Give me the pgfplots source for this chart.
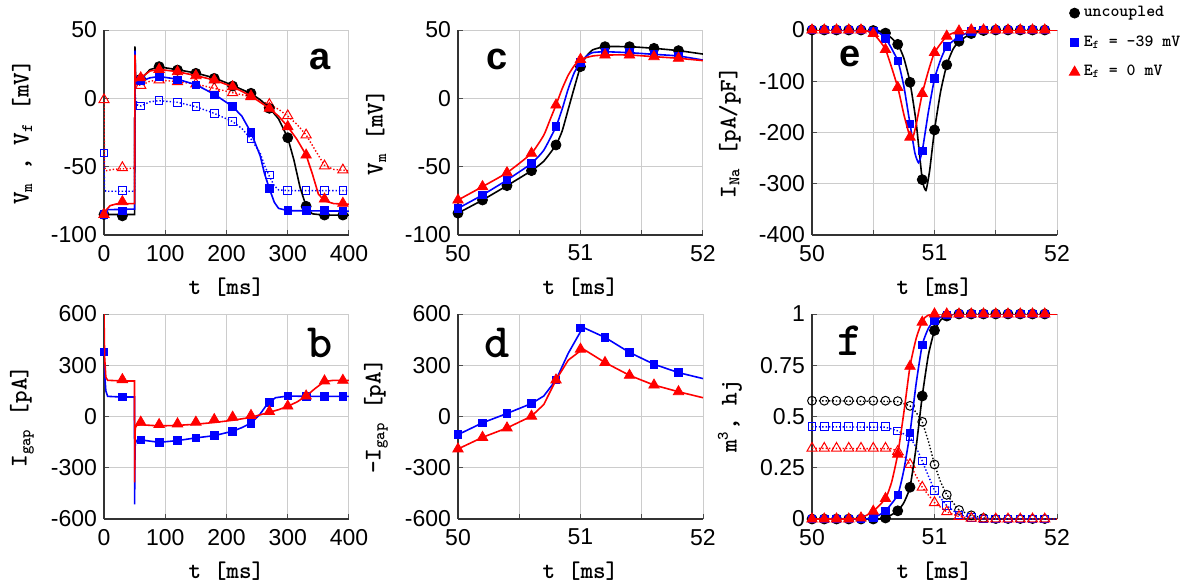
\documentclass[border=0pt]{standalone}
\usepackage{pgfplots}
\pgfplotsset{compat=1.18}
\usepackage{fontspec}
\newfontfamily\sansf{Liberation Sans}

\newcommand\lab{\ttfamily\bfseries\fontsize{12}{12}\selectfont}
\newcommand\tickf{\sansf\fontsize{11.5}{12}\selectfont}
\newcommand\letA{\sansf\bfseries\fontsize{19}{19}\selectfont}
\newcommand\letB{\ttfamily\bfseries\fontsize{24}{24}\selectfont}

\pgfplotsset{
  panel/.style={
    scale only axis, width=122.5pt, height=102.5pt,
    anchor=north west,
    axis x line*=bottom, axis y line*=left,
    axis line style={black!80, line width=0.9pt},
    grid=both,
    major grid style={black!20, line width=0.5pt},
    minor grid style={black!20, line width=0.5pt},
    tick style={black!70, line width=0.5pt},
    major tick length=2.5pt, minor tick length=2.5pt,
    tick align=inside,
    tick label style={font=\tickf},
    xticklabel style={yshift=-1.5pt},
    /pgf/number format/assume math mode=true,
    xlabel={t [ms]},
    every axis x label/.style={at={(axis description cs:0.5,0)}, yshift=-26pt, anchor=center, font=\lab},
    every axis y label/.style={at={(axis description cs:0,0.5)}, xshift=-41pt, rotate=90, anchor=center, font=\lab},
    clip mode=individual,
  },
  long/.style={xmin=0, xmax=400, xtick={0,100,200,300,400}},
  short/.style={xmin=50, xmax=52, xtick={50,51,52}, minor xtick={50.5,51.5}},
  lk/.style={black, line width=0.8pt},
  lb/.style={blue, line width=0.8pt},
  lr/.style={red, line width=0.8pt},
  dk/.style={black, densely dotted, line width=0.7pt},
  db/.style={blue, densely dotted, line width=0.7pt},
  dr/.style={red, densely dotted, line width=0.7pt},
  mk/.style={only marks, mark=*, mark size=2.5pt, black},
  mb/.style={only marks, mark=square*, mark size=1.9pt, blue},
  mr/.style={only marks, mark=triangle*, mark size=3pt, red},
  ok/.style={only marks, mark=o, mark size=2.2pt, black, mark options={line width=0.5pt}},
  ob/.style={only marks, mark=square, mark size=1.9pt, blue, mark options={line width=0.5pt}},
  or/.style={only marks, mark=triangle, mark size=2.9pt, red, mark options={line width=0.5pt}},
}

\begin{document}
\begin{tikzpicture}
\useasboundingbox (0,0) rectangle (600pt,-293pt);

% ---------- a ----------
\begin{axis}[panel, long, at={(52pt,-15pt)},
  ymin=-100, ymax=50, ytick={-100,-50,0,50},
  ylabel={V\textsubscript{m} , V\textsubscript{f} [mV]}]
\addplot[db] coordinates {(0,-40) (0.8,-66) (3,-68) (50,-68) (50.5,5) (52,-1) (55,-5) (60,-5.6) (75,-2.5) (90,-1.7) (120,-2.9) (150,-6.1) (180,-11) (210,-17) (225,-22) (240,-29.8) (255,-40) (262,-49) (270,-57) (278,-64) (285,-67) (300,-67.5) (400,-67.5)};
\addplot[ob] coordinates {(0,-40) (30,-67.5) (60,-5.6) (90,-1.7) (120,-2.9) (150,-6.1) (180,-11) (210,-17) (240,-29.8) (270,-56) (300,-67.3) (330,-67.5) (360,-67.5) (390,-67.5)};
\addplot[dr] coordinates {(0,-1) (0.8,-50) (3,-53) (15,-52) (50,-51) (50.5,20) (52,10) (60,9.5) (75,12.5) (90,13.4) (120,12.2) (150,10.5) (180,7.3) (210,4.1) (240,1.2) (270,-4.5) (285,-8) (300,-13) (315,-19) (330,-26.8) (345,-38) (360,-49) (375,-52) (400,-53)};
\addplot[or] coordinates {(0,-1) (30,-50.7) (60,9.5) (90,13.4) (120,12.2) (150,10.5) (180,7.3) (210,4.1) (240,1.2) (270,-4.5) (300,-12.7) (330,-26.8) (360,-49.5) (390,-52.4)};
\addplot[lk] coordinates {(0,-85) (49.5,-85) (50,-85) (50.5,38) (51.5,16) (53,13) (60,14) (75,21) (90,23) (120,21) (150,18.5) (180,15) (210,9.5) (240,3.5) (255,-1) (270,-7) (285,-15) (300,-28.8) (310,-45) (320,-65) (330,-79) (340,-84.5) (360,-85.5) (400,-85.5)};
\addplot[mk] coordinates {(0,-85) (30,-86) (60,14) (90,23.2) (120,20.7) (150,18.3) (180,14.6) (210,9) (240,3.7) (270,-7.3) (300,-28.8) (330,-79) (360,-85.4) (390,-85.4)};
\addplot[lb] coordinates {(0,-85) (2,-83) (5,-81.5) (49.5,-81) (50,-81) (50.5,35) (51.5,14) (53,11) (60,12.5) (75,15) (90,16) (120,14) (150,10) (180,3) (210,-6) (225,-13) (240,-25) (255,-42) (262,-55) (270,-66) (278,-76) (285,-80.5) (300,-82.2) (400,-82.5)};
\addplot[mb] coordinates {(0,-85) (30,-82.5) (60,13) (90,16) (120,13.4) (150,9.8) (180,2.4) (210,-6.1) (240,-25) (270,-66) (300,-82.2) (330,-82.2) (360,-82.2) (390,-82.5)};
\addplot[lr] coordinates {(0,-85) (5,-81) (10,-78.5) (20,-77.3) (49.5,-77) (50,-77) (50.5,32) (51.5,15) (53,13) (60,15) (75,20) (90,21.2) (120,19.5) (150,16.6) (180,13.4) (210,8.5) (240,1.7) (270,-7.3) (285,-13) (300,-20.7) (315,-30) (330,-41.5) (340,-55) (350,-70) (360,-75) (375,-77) (400,-77.5)};
\addplot[mr] coordinates {(0,-85) (30,-75.6) (60,15) (90,21.2) (120,19.5) (150,16.6) (180,13.4) (210,8.5) (240,1.7) (270,-7.3) (300,-20.7) (330,-41.5) (360,-73.7) (390,-76.8)};
\node[font=\letA] at (rel axis cs:0.88,0.854) {a};
\end{axis}

% ---------- c ----------
\begin{axis}[panel, short, at={(229pt,-15pt)},
  ymin=-100, ymax=50, ytick={-100,-50,0,50},
  ylabel={V\textsubscript{m} [mV]}]
\addplot[lk, smooth, tension=0.3] coordinates {(50,-84) (50.2,-74.4) (50.4,-63.9) (50.6,-52.9) (50.7,-46) (50.8,-34.1) (50.85,-24) (50.9,-8) (50.95,8) (51,23.2) (51.05,31) (51.1,35.5) (51.2,37.8) (51.4,37.8) (51.6,36.6) (51.8,34.9) (52,32.4)};
\addplot[mk] coordinates {(50,-84) (50.2,-74.4) (50.4,-63.9) (50.6,-52.9) (50.8,-34.1) (51,23.2) (51.2,37.8) (51.4,37.8) (51.6,36.6) (51.8,34.9)};
\addplot[lb, smooth, tension=0.3] coordinates {(50,-80.5) (50.2,-70.7) (50.4,-59.8) (50.6,-47.6) (50.7,-38) (50.8,-20.7) (50.85,-8) (50.9,7) (50.95,19) (51,26.1) (51.05,31) (51.1,33.5) (51.2,34.1) (51.4,33.4) (51.6,32.2) (51.8,31) (52,28)};
\addplot[mb] coordinates {(50,-80.5) (50.2,-70.7) (50.4,-59.8) (50.6,-47.6) (50.8,-20.7) (51,26.1) (51.2,34.1) (51.4,33.4) (51.6,32.2) (51.8,31)};
\addplot[lr, smooth, tension=0.3] coordinates {(50,-74.4) (50.2,-64.6) (50.4,-54.4) (50.6,-40.2) (50.7,-27) (50.75,-16) (50.8,-4.9) (50.85,7) (50.9,17) (50.95,24) (51,28.5) (51.1,31) (51.2,31.7) (51.4,31.7) (51.6,30.5) (51.8,29.3) (52,27.6)};
\addplot[mr] coordinates {(50,-74.4) (50.2,-64.6) (50.4,-54.4) (50.6,-40.2) (50.8,-4.9) (51,28.5) (51.2,31.7) (51.4,31.7) (51.6,30.5) (51.8,29.3)};
\node[font=\letA] at (rel axis cs:0.16,0.854) {c};
\end{axis}

% ---------- e ----------
\begin{axis}[panel, short, at={(406pt,-15pt)},
  ymin=-400, ymax=0, ytick={-400,-300,-200,-100,0},
  ylabel={I\textsubscript{Na} [pA/pF]},
  legend style={at={(1,1)}, anchor=north west, xshift=6pt, yshift=14pt, draw=none, fill=none,
    font=\ttfamily\bfseries\fontsize{8.5}{9}\selectfont, row sep=4pt, inner sep=0pt},
  legend cell align=left]
\addlegendimage{mk}
\addlegendimage{mb}
\addlegendimage{mr}
\addplot[lk, smooth, tension=0.3, forget plot] coordinates {(50,0) (50.5,-1) (50.6,-6) (50.7,-28) (50.75,-55) (50.8,-102) (50.85,-180) (50.9,-292) (50.93,-313) (50.96,-275) (51,-195) (51.05,-120) (51.1,-68) (51.15,-38) (51.2,-22) (51.3,-7) (51.4,-1) (51.5,0) (52,0)};
\addplot[mk, forget plot] coordinates {(50,0) (50.1,0) (50.2,0) (50.3,0) (50.4,0) (50.5,-1) (50.6,-6) (50.7,-28) (50.8,-102) (50.9,-292) (51,-195) (51.1,-68) (51.2,-22) (51.3,-7) (51.4,-1) (51.5,0) (51.6,0) (51.7,0) (51.8,0) (51.9,0)};
\addplot[lb, smooth, tension=0.3, forget plot] coordinates {(50,0) (50.5,-2) (50.6,-16) (50.7,-60) (50.75,-110) (50.8,-183) (50.84,-240) (50.87,-259) (50.9,-236) (50.95,-160) (51,-95) (51.05,-58) (51.1,-32) (51.2,-13) (51.3,-3) (51.4,0) (52,0)};
\addplot[mb, forget plot] coordinates {(50,0) (50.1,0) (50.2,0) (50.3,0) (50.4,0) (50.5,-2) (50.6,-16) (50.7,-60) (50.8,-183) (50.9,-236) (51,-95) (51.1,-32) (51.2,-13) (51.3,-3) (51.4,0) (51.5,0) (51.6,0) (51.7,0) (51.8,0) (51.9,0)};
\addplot[lr, smooth, tension=0.3, forget plot] coordinates {(50,0) (50.4,0) (50.5,-7) (50.6,-38) (50.7,-112) (50.75,-165) (50.8,-209) (50.82,-213) (50.85,-185) (50.9,-124) (50.95,-80) (51,-44) (51.1,-12) (51.2,-2) (51.3,0) (52,0)};
\addplot[mr, forget plot] coordinates {(50,0) (50.1,0) (50.2,0) (50.3,0) (50.4,0) (50.5,-7) (50.6,-38) (50.7,-112) (50.8,-209) (50.9,-124) (51,-44) (51.1,-12) (51.2,-2) (51.3,0) (51.4,0) (51.5,0) (51.6,0) (51.7,0) (51.8,0) (51.9,0)};
\legend{uncoupled, E\textsubscript{f} = -39 mV, E\textsubscript{f} = 0 mV}
\node[font=\letA] at (rel axis cs:0.155,0.87) {e};
\end{axis}

% ---------- b ----------
\begin{axis}[panel, long, at={(52pt,-157pt)},
  ymin=-600, ymax=600, ytick={-600,-300,0,300,600},
  ylabel={I\textsubscript{gap} [pA]}]
\addplot[lb] coordinates {(0,380) (1,250) (3,150) (6,118) (30,114) (49.8,114) (50,-514) (50.3,-300) (51,-160) (53,-140) (60,-137) (90,-151) (120,-141) (150,-125) (180,-112) (210,-86) (225,-65) (240,-39) (255,15) (265,65) (270,84) (280,110) (300,120) (330,118) (400,118)};
\addplot[mb] coordinates {(0,378) (30,114) (60,-137) (90,-151) (120,-141) (150,-125) (180,-112) (210,-86) (240,-39) (270,84) (300,120) (330,118) (360,118) (390,118)};
\addplot[lr] coordinates {(0,600) (1,350) (3,230) (6,212) (30,208) (49.8,208) (50,-386) (50.3,-200) (51,-70) (53,-52) (60,-48) (90,-55) (120,-52) (150,-45) (180,-35) (210,-22) (240,-5) (255,10) (270,25) (285,40) (300,60) (315,85) (330,120) (345,165) (360,205) (375,212) (400,212)};
\addplot[mr] coordinates {(30,216) (60,-33) (90,-47) (120,-43) (150,-33) (180,-18) (210,-4) (240,6) (270,29) (300,61) (330,120) (360,208) (390,212)};
\node[font=\letB] at (rel axis cs:0.88,0.86) {b};
\end{axis}

% ---------- d ----------
\begin{axis}[panel, short, at={(229pt,-157pt)},
  ymin=-600, ymax=600, ytick={-600,-300,0,300,600},
  ylabel={-I\textsubscript{gap} [pA]}]
\addplot[lb] coordinates {(50,-106) (50.2,-37) (50.4,18) (50.6,76) (50.7,120) (50.8,214) (50.9,370) (51.02,522) (51.2,463) (51.4,375) (51.6,306) (51.8,257) (52,222)};
\addplot[mb] coordinates {(50,-106) (50.2,-37) (50.4,18) (50.6,76) (50.8,214) (51,518) (51.2,463) (51.4,375) (51.6,306) (51.8,257)};
\addplot[lr] coordinates {(50,-190) (50.2,-122) (50.4,-67) (50.6,2) (50.7,70) (50.8,214) (50.9,330) (51.02,396) (51.2,316) (51.4,241) (51.6,184) (51.8,145) (52,110)};
\addplot[mr] coordinates {(50,-190) (50.2,-122) (50.4,-67) (50.6,2) (50.8,214) (51,394) (51.2,316) (51.4,241) (51.6,184) (51.8,145)};
\node[font=\letB] at (rel axis cs:0.16,0.86) {d};
\end{axis}

% ---------- f ----------
\begin{axis}[panel, short, at={(406pt,-157pt)},
  ymin=0, ymax=1, ytick={0,0.25,0.5,0.75,1},
  ylabel={m\textsuperscript{3}, hj}]
\addplot[dk] coordinates {(50,0.577) (50.7,0.573) (50.8,0.552) (50.85,0.52) (50.9,0.474) (50.95,0.38) (51,0.266) (51.05,0.18) (51.1,0.118) (51.2,0.044) (51.3,0.018) (51.4,0.005) (51.5,0) (52,0)};
\addplot[ok] coordinates {(50,0.577) (50.1,0.577) (50.2,0.577) (50.3,0.577) (50.4,0.577) (50.5,0.577) (50.6,0.577) (50.7,0.575) (50.8,0.552) (50.9,0.474) (51,0.266) (51.1,0.118) (51.2,0.044) (51.3,0.018) (51.4,0.005) (51.5,0) (51.6,0) (51.7,0) (51.8,0) (51.9,0)};
\addplot[db] coordinates {(50,0.45) (50.6,0.448) (50.7,0.43) (50.8,0.40) (50.85,0.35) (50.9,0.283) (50.95,0.21) (51,0.14) (51.1,0.065) (51.2,0.02) (51.3,0.008) (51.4,0) (52,0)};
\addplot[ob] coordinates {(50,0.45) (50.1,0.45) (50.2,0.45) (50.3,0.45) (50.4,0.45) (50.5,0.45) (50.6,0.45) (50.7,0.43) (50.8,0.40) (50.9,0.283) (51,0.14) (51.1,0.065) (51.2,0.02) (51.3,0.008) (51.4,0) (51.5,0) (51.6,0) (51.7,0) (51.8,0) (51.9,0)};
\addplot[dr] coordinates {(50,0.345) (50.65,0.343) (50.7,0.33) (50.75,0.31) (50.8,0.266) (50.85,0.21) (50.9,0.155) (51,0.08) (51.1,0.035) (51.2,0.012) (51.3,0.004) (51.4,0) (52,0)};
\addplot[or] coordinates {(50,0.345) (50.1,0.345) (50.2,0.345) (50.3,0.345) (50.4,0.345) (50.5,0.345) (50.6,0.345) (50.7,0.33) (50.8,0.266) (50.9,0.155) (51,0.08) (51.1,0.035) (51.2,0.012) (51.3,0.004) (51.4,0) (51.5,0) (51.6,0) (51.7,0) (51.8,0) (51.9,0)};
\addplot[lk, smooth, tension=0.3] coordinates {(50,0) (50.5,0) (50.6,0.005) (50.7,0.04) (50.75,0.08) (50.8,0.155) (50.85,0.35) (50.9,0.6) (50.95,0.8) (51,0.92) (51.05,0.97) (51.1,0.99) (51.2,1) (52,1)};
\addplot[mk] coordinates {(50,0) (50.1,0) (50.2,0) (50.3,0) (50.4,0) (50.5,0) (50.6,0.005) (50.7,0.04) (50.8,0.155) (50.9,0.6) (51,0.92) (51.1,0.99) (51.2,1) (51.3,1) (51.4,1) (51.5,1) (51.6,1) (51.7,1) (51.8,1) (51.9,1)};
\addplot[lb, smooth, tension=0.3] coordinates {(50,0) (50.4,0) (50.5,0.005) (50.6,0.04) (50.7,0.118) (50.75,0.24) (50.8,0.42) (50.85,0.66) (50.9,0.85) (50.95,0.93) (51,0.97) (51.1,0.995) (51.2,1) (52,1)};
\addplot[mb] coordinates {(50,0) (50.1,0) (50.2,0) (50.3,0) (50.4,0) (50.5,0.005) (50.6,0.04) (50.7,0.118) (50.8,0.42) (50.9,0.85) (51,0.97) (51.1,0.995) (51.2,1) (51.3,1) (51.4,1) (51.5,1) (51.6,1) (51.7,1) (51.8,1) (51.9,1)};
\addplot[lr, smooth, tension=0.3] coordinates {(50,0) (50.3,0) (50.4,0.005) (50.5,0.038) (50.6,0.1) (50.65,0.18) (50.7,0.316) (50.75,0.52) (50.8,0.745) (50.85,0.88) (50.9,0.96) (51,1) (52,1)};
\addplot[mr] coordinates {(50,0) (50.1,0) (50.2,0) (50.3,0) (50.4,0.005) (50.5,0.038) (50.6,0.1) (50.7,0.316) (50.8,0.745) (50.9,0.96) (51,1) (51.1,1) (51.2,1) (51.3,1) (51.4,1) (51.5,1) (51.6,1) (51.7,1) (51.8,1) (51.9,1)};
\node[font=\letB] at (rel axis cs:0.155,0.87) {f};
\end{axis}
\end{tikzpicture}
\end{document}
